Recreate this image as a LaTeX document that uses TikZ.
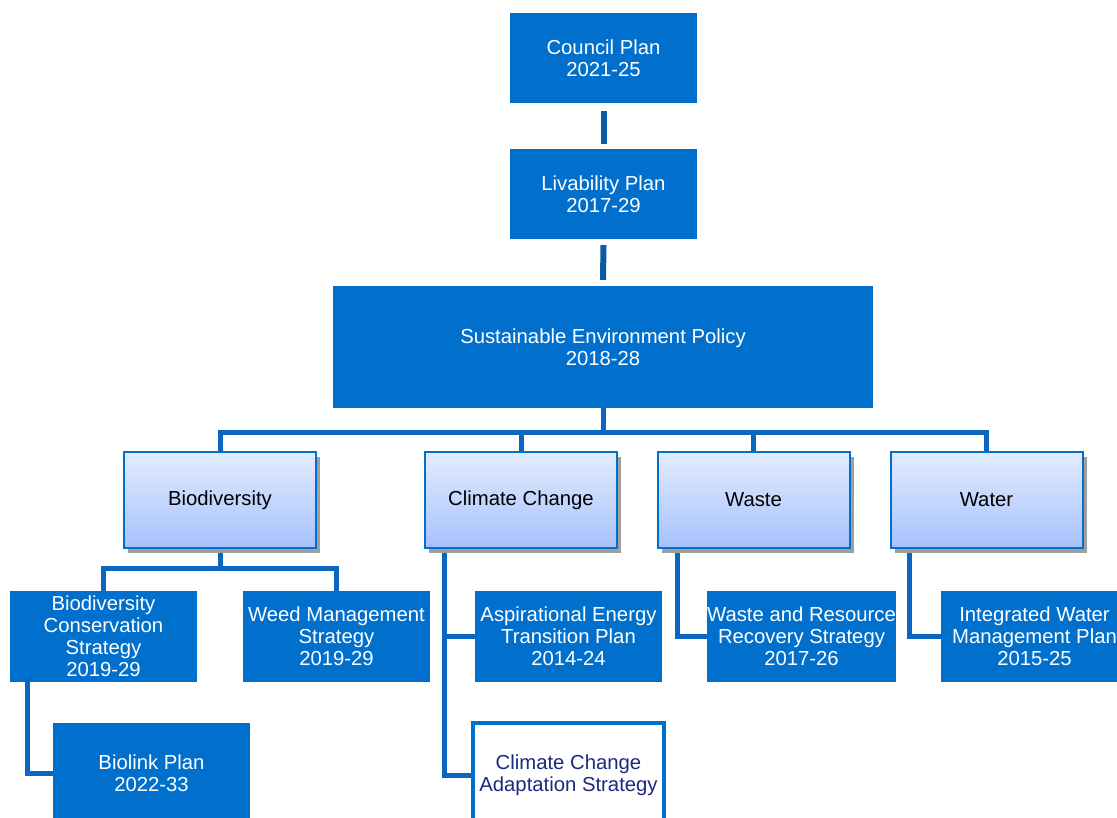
\documentclass[tikz,border=0pt]{standalone}
\usepackage{fontspec}
\setmainfont{Liberation Sans}
\usetikzlibrary{shadows,calc}
\definecolor{mblue}{HTML}{0070CC}
\definecolor{lblue}{HTML}{0A66BE}
\definecolor{dblue}{HTML}{0B5AA6}
\definecolor{gtop}{HTML}{E3ECFE}
\definecolor{gbot}{HTML}{A6C1FC}
\definecolor{navy}{HTML}{1B2A7E}
\newcommand{\lowtext}[1]{\raisebox{-2.5pt}{#1}}
\begin{document}
\begin{tikzpicture}[x=1pt,y=-1pt,
  txt/.style={align=center, inner sep=0pt, font=\fontsize{20.3}{22}\selectfont},
  plan/.style={txt, fill=mblue, draw=none, text=white, minimum width=187pt, minimum height=91pt},
  catframe/.style={inner sep=0pt, minimum width=192pt, minimum height=96pt},
  cat/.style={txt, catframe, draw=mblue, line width=2pt, top color=gtop, bottom color=gbot, text=black,
     drop shadow={shadow xshift=4pt, shadow yshift=-5pt, fill=gray!75, opacity=1}},
  hollow/.style={txt, draw=mblue, line width=4pt, fill=white, text=navy, minimum width=191pt, minimum height=104pt},
  link/.style={draw=lblue, line width=5pt},
  toplink/.style={draw=dblue, line width=6pt}]
\useasboundingbox (0,0) rectangle (1117,818);
\clip (0,0) rectangle (1117,818);
\fill[white] (0,0) rectangle (1117,818);

% top chain
\node[plan, minimum height=90pt] (council) at (603.5,58) {Council Plan\\2021-25};
\node[plan, minimum height=90pt] (liv) at (603.5,194) {Livability Plan\\2017-29};
\node[plan, minimum width=540pt, minimum height=122pt] (sep) at (603,347) {Sustainable Environment Policy\\2018-28};

% plans
\node[plan] (bcs) at (103.5,636.5) {Biodiversity\\Conservation\\Strategy\\2019-29};
\node[plan] (weed) at (336.5,636.5) {Weed Management\\Strategy\\2019-29};
\node[plan] (aetp) at (568.5,636.5) {Aspirational Energy\\Transition Plan\\2014-24};
\node[plan] (wrrs) at (801.5,636.5) {Waste and Resource\\Recovery Strategy\\2017-26};
\node[plan] (iwmp) at (1034.5,636.5) {Integrated Water\\Management Plan\\2015-25};
\node[plan, minimum width=197pt, minimum height=100pt] (biolink) at (151.5,773) {Biolink Plan\\2022-33};
\node[hollow] (ccas) at (568.5,775) {Climate Change\\Adaptation Strategy};

% category frames (positions only; drawn after the connectors)
\path node[catframe] (bio) at (220,500) {}
      node[catframe] (cc) at (521,500) {}
      node[catframe] (waste) at (753.5,500) {}
      node[catframe] (water) at (986.5,500) {};

% connectors
\coordinate (busA) at (603,432);
\coordinate (busB) at (220,568);
\draw[toplink] ([yshift=-8pt]council.south) -- ([yshift=5pt]liv.north);
\draw[toplink] ([yshift=-6pt]liv.south) -- ([yshift=6pt]sep.north);

\draw[link] (sep.south) -- (busA);
\draw[link] (bio.north) -- (bio.north |- busA) -- (water.north |- busA) -- (water.north);
\draw[link] (cc.north) -- (cc.north |- busA);
\draw[link] (waste.north) -- (waste.north |- busA);

\draw[link] (bio.south) -- (busB);
\draw[link] (bcs.north) -- (bcs.north |- busB) -- (weed.north |- busB) -- (weed.north);

\draw[link] ([xshift=-76.5pt,yshift=5pt]bcs.south) |- (biolink.west);
\draw[link] ([xshift=-77pt]cc.south) |- (ccas.west);
\draw[link] ([xshift=-77pt]cc.south) |- (aetp.west);
\draw[link] ([xshift=-76.5pt]waste.south) |- (wrrs.west);
\draw[link] ([xshift=-77.5pt]water.south) |- (iwmp.west);

% category boxes
\node[cat] at (bio) {\lowtext{Biodiversity}};
\node[cat] at (cc) {\lowtext{Climate Change}};
\node[cat] at (waste) {\lowtext{Waste}};
\node[cat] at (water) {\lowtext{Water}};
\end{tikzpicture}
\end{document}
